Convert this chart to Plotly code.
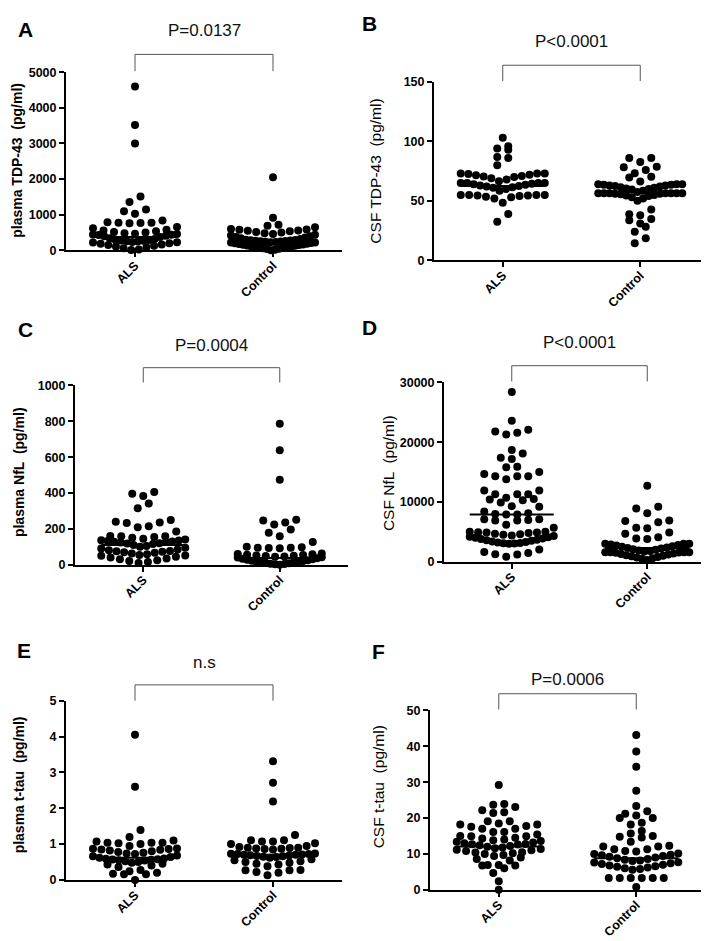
import numpy as np
import plotly.graph_objects as go

W, H = 709, 941
FONT = "Arial, 'Liberation Sans', sans-serif"

# ---------------- data ----------------
CATEGORIES = ["ALS", "Control"]

A_ALS = [4600, 3520, 3000, 1510, 1360, 1150, 1100, 1030, 840, 790, 780, 775, 770, 760, 660, 620,
         580, 560, 540, 520, 500, 480, 470, 460, 450, 440, 430, 410, 400, 380, 340, 320, 300, 290,
         280, 270, 260, 250, 240, 230, 220, 200, 190, 170, 150, 130, 110, 90, 60, 30, 10]
A_CTRL = [2050, 920, 720, 690, 650, 600, 590, 580, 560, 550, 540, 520, 500, 480, 460, 440, 420,
          400, 380, 360, 340, 320, 300, 290, 285, 280, 270, 265, 260, 250, 245, 240, 230, 225, 220,
          210, 200, 190, 180, 170, 160, 150, 140, 130, 120, 110, 100, 90, 80, 70, 60, 50, 40, 20, 5]
A_MED = [380, 240]
A_TICKS = [0, 1000, 2000, 3000, 4000, 5000]

B_ALS = [103, 96, 94, 93, 87, 86, 80, 73, 73, 73, 72.5, 72, 71.5, 71, 70.5, 70, 69, 68, 66.5,
         65, 65, 65, 65, 64.5, 64, 63.5, 63, 62.5, 62, 61.5, 61, 60, 58.5, 55, 55, 55, 55, 54.5,
         54.5, 54, 53.5, 53, 52, 48.5, 39, 32.5]
B_CTRL = [86, 86, 82.6, 78.8, 78.2, 76, 73.2, 70.2, 69.6, 66.3, 64, 64, 64, 63.5, 63.5, 63, 63,
          62.5, 62, 61.5, 61, 60.5, 60, 59.5, 58.5, 57.5, 56.5, 56.5, 56.5, 56.5, 56.5, 56.5, 56.5,
          56, 56, 55.5, 55, 54.5, 54, 53, 52, 50, 42.8, 38.7, 37.9, 34.8, 33.7, 30.9, 28.2, 24,
          18.5, 14.3]
B_MED = [62.5, 57.5]
B_TICKS = [0, 50, 100, 150]

C_ALS = [405, 396, 383, 342, 315, 250, 240, 236, 232, 214, 209, 185, 160, 158, 158, 155, 150,
         145, 140, 137, 135, 132, 130, 128, 126, 124, 120, 118, 115, 110, 105, 100, 95, 90, 85,
         80, 77, 75, 72, 70, 66, 62, 58, 54, 52, 50, 45, 40, 35, 30, 25, 20, 15, 10]
C_CTRL = [786, 639, 474, 251, 246, 236, 224, 196, 178, 158, 126, 100, 98, 95, 95, 93, 92, 62,
          60, 58, 56, 54, 52, 50, 48, 46, 44, 42, 40, 36, 33, 30, 28, 25, 22, 20, 18, 16, 14, 12,
          10, 8, 6, 4, 2, 0]
C_MED = [110, 38]
C_TICKS = [0, 200, 400, 600, 800, 1000]

D_ALS = [28400, 23600, 22100, 21800, 21600, 21300, 18700, 18100, 17400, 17200, 15900, 15800,
         15000, 14700, 14300, 14300, 14300, 13800, 11900, 11900, 11300, 11300, 11300, 10700,
         10500, 10400, 10300, 9900, 9300, 9200, 8400, 8100, 8000, 7900, 7900, 7100, 7100, 7000,
         6900, 6900, 6200, 5700, 5000, 5000, 4950, 4900, 4900, 4800, 4700, 4600, 4500, 4400,
         4300, 4200, 4100, 4000, 3900, 3800, 3700, 3600, 3500, 3400, 3300, 3200, 3150, 3100,
         3050, 3000, 2030, 1650, 1480, 1270, 1200, 820]
D_CTRL = [12700, 9200, 8900, 8100, 6900, 6800, 6600, 5700, 5600, 4900, 4700, 4100, 3900, 3800,
          3000, 3000, 3000, 2900, 2800, 2700, 2600, 2500, 2400, 2300, 2200, 2100, 2000, 1900,
          1800, 1700, 1600, 1600, 1600, 1600, 1550, 1500, 1400, 1300, 1200, 1100, 1000, 900,
          800, 700, 600, 500, 300]
D_MED = [7900, 2300]
D_TICKS = [0, 10000, 20000, 30000]

E_ALS = [4.05, 2.6, 1.39, 1.2, 1.1, 1.07, 1.04, 1.04, 1.04, 1.02, 1.0, 0.95, 0.88, 0.87, 0.86,
         0.85, 0.84, 0.82, 0.8, 0.78, 0.76, 0.74, 0.72, 0.68, 0.66, 0.64, 0.62, 0.6, 0.59, 0.58,
         0.57, 0.56, 0.55, 0.54, 0.52, 0.5, 0.48, 0.45, 0.43, 0.4, 0.36, 0.28, 0.24, 0.2, 0.17,
         0.16, 0.16, 0.0]
E_CTRL = [3.31, 2.71, 2.19, 1.25, 1.11, 1.11, 1.07, 1.07, 1.02, 1.0, 0.95, 0.92, 0.9, 0.9, 0.89,
          0.88, 0.87, 0.86, 0.85, 0.74, 0.73, 0.72, 0.72, 0.71, 0.7, 0.7, 0.69, 0.68, 0.67, 0.66,
          0.65, 0.64, 0.62, 0.58, 0.55, 0.52, 0.5, 0.48, 0.45, 0.43, 0.38, 0.28, 0.27, 0.27,
          0.22, 0.2, 0.13]
E_MED = [0.62, 0.70]
E_TICKS = [0, 1, 2, 3, 4, 5]

F_ALS = [29.2, 23.9, 23.7, 23.1, 22.2, 21.6, 21.4, 19.1, 19.1, 18.5, 18.2, 18.2, 17.8, 17.6,
         17.0, 17.0, 16.1, 16.1, 15.4, 15.0, 14.9, 14.9, 14.5, 14.3, 14.0, 13.8, 13.6, 13.4,
         13.2, 13.0, 12.8, 12.7, 12.6, 12.4, 12.2, 12.0, 11.8, 11.6, 11.4, 11.2, 11.0, 10.8,
         10.5, 10.4, 10.2, 10.0, 9.7, 9.4, 9.0, 8.6, 8.2, 6.9, 6.9, 6.8, 6.8, 6.0, 4.7, 2.4, 0.0]
F_CTRL = [43.2, 38.6, 34.3, 27.6, 23.4, 21.9, 21.2, 20.7, 20.0, 20.0, 18.7, 18.2, 16.4, 15.7,
          15.0, 14.8, 14.6, 13.4, 12.3, 12.1, 12.1, 11.3, 11.3, 10.8, 10.7, 10.1, 10.0, 9.8,
          9.6, 9.4, 9.2, 9.0, 8.8, 8.6, 8.4, 8.2, 8.0, 7.7, 7.6, 7.4, 7.2, 7.0, 6.8, 6.6, 6.4,
          6.2, 6.0, 5.8, 5.6, 3.3, 3.3, 3.3, 3.3, 3.3, 3.3, 0.8]
F_MED = [12.1, 8.8]
F_TICKS = [0, 10, 20, 30, 40, 50]

P_TEXTS = ["P=0.0137", "P<0.0001", "P=0.0004", "P<0.0001", "n.s", "P=0.0006"]
Y_TITLES = ["plasma TDP-43  (pg/ml)", "CSF TDP-43  (pg/ml)", "plasma NfL  (pg/ml)",
            "CSF NfL  (pg/ml)", "plasma t-tau  (pg/ml)", "CSF t-tau  (pg/ml)"]
LETTERS = ["A", "B", "C", "D", "E", "F"]

PANELS = [
    (A_ALS, A_CTRL, A_MED, A_TICKS),
    (B_ALS, B_CTRL, B_MED, B_TICKS),
    (C_ALS, C_CTRL, C_MED, C_TICKS),
    (D_ALS, D_CTRL, D_MED, D_TICKS),
    (E_ALS, E_CTRL, E_MED, E_TICKS),
    (F_ALS, F_CTRL, F_MED, F_TICKS),
]

# ---------------- layout / style (pixel geometry) ----------------
STYLE = [
    dict(box=(58, 334, 58, 239), br=(40, 57), py=16, letter=(17, 15), yt=(9, 148), bold=True),
    dict(box=(426, 701, 68, 249), br=(51, 67), py=27, letter=(361, 9), yt=(368, 159), bold=False),
    dict(box=(67, 340, 376, 558), br=(358, 373), py=335, letter=(17, 319), yt=(11, 464), bold=True),
    dict(box=(436, 707, 373, 555), br=(356, 372), py=332, letter=(361, 317), yt=(380, 465), bold=False),
    dict(box=(58, 334, 696, 878), br=(680, 696), py=657, letter=(16, 645), yt=(11, 782), bold=True),
    dict(box=(422, 697, 706, 888), br=(689, 705), py=675, letter=(370, 646), yt=(370, 784), bold=False),
]

MARKER_D = 8
ROW_PX = 8.0
STEP_PX = 11.0
HALF_PX = 42.0


def swarm(values, center, px_per_y, px_per_x):
    """Prism-like scatter layout: points grouped in rows, spread horizontally."""
    v = np.sort(np.asarray(values, dtype=float))
    rows, cur, start = [], [v[0]], v[0]
    for val in v[1:]:
        if (val - start) * px_per_y <= ROW_PX:
            cur.append(val)
        else:
            rows.append(cur)
            cur, start = [val], val
    rows.append(cur)
    xs, ys = [], []
    for r in rows:
        n = len(r)
        step = STEP_PX if n == 1 else min(STEP_PX, 2 * HALF_PX / (n - 1))
        slots = (np.arange(n) - (n - 1) / 2.0) * step
        order = np.argsort(np.abs(slots), kind="stable")
        for val, idx in zip(sorted(r), order):
            xs.append(center + slots[idx] / px_per_x)
            ys.append(val)
    return xs, ys


fig = go.Figure()
annotations, shapes = [], []

for i, ((als, ctl, med, ticks), st) in enumerate(zip(PANELS, STYLE), start=1):
    sfx = "" if i == 1 else str(i)
    xa, ya = "x" + sfx, "y" + sfx
    l, r, t, b = st["box"]
    ymax = ticks[-1]
    px_per_x = (r - l) / 2.0
    px_per_y = (b - t) / ymax

    for ci, vals in enumerate([als, ctl]):
        xs, ys = swarm(vals, ci, px_per_y, px_per_x)
        fig.add_trace(go.Scatter(
            x=xs, y=ys, mode="markers", xaxis=xa, yaxis=ya, cliponaxis=False,
            marker=dict(size=MARKER_D, color="black", line=dict(width=0)),
            showlegend=False, hoverinfo="y"))
        half = HALF_PX / px_per_x
        fig.add_trace(go.Scatter(
            x=[ci - half, ci + half], y=[med[ci], med[ci]], mode="lines",
            xaxis=xa, yaxis=ya, cliponaxis=False,
            line=dict(color="black", width=2), showlegend=False, hoverinfo="skip"))

    fig.layout["xaxis" + sfx] = dict(
        domain=[l / W, r / W], anchor=ya, range=[-0.5, 1.5],
        tickmode="array", tickvals=[0, 1], ticktext=CATEGORIES, tickangle=-45,
        ticks="outside", ticklen=5, tickwidth=2, tickcolor="black",
        ticklabelstandoff=-4,
        showline=True, linewidth=2, linecolor="black", showgrid=False, zeroline=False,
        tickfont=dict(family=FONT, size=12.5, color="black", weight="bold"), fixedrange=True)
    fig.layout["yaxis" + sfx] = dict(
        domain=[1 - b / H, 1 - t / H], anchor=xa, range=[0, ymax],
        tickmode="array", tickvals=ticks, ticktext=[str(v) for v in ticks],
        ticks="outside", ticklen=5, tickwidth=2, tickcolor="black",
        showline=True, linewidth=2, linecolor="black", showgrid=False, zeroline=False,
        tickfont=dict(family=FONT, size=12.5, color="black", weight="bold"), fixedrange=True)

    # significance bracket
    ybar, yleg = st["br"]
    for (x0, y0, x1, y1) in [(0, ybar, 1, ybar), (0, ybar, 0, yleg), (1, ybar, 1, yleg)]:
        shapes.append(dict(type="line", xref=xa, yref="paper", x0=x0, x1=x1,
                           y0=1 - y0 / H, y1=1 - y1 / H,
                           line=dict(color="#555555", width=1)))
    annotations.append(dict(text=P_TEXTS[i - 1], xref=xa, yref="paper", x=0.5,
                            y=1 - st["py"] / H, showarrow=False, xanchor="center",
                            yanchor="middle", font=dict(family=FONT, size=17, color="#111111")))
    # panel letter
    lx, ly = st["letter"]
    annotations.append(dict(text=LETTERS[i - 1], xref="paper", yref="paper", x=lx / W,
                            y=1 - ly / H, showarrow=False, xanchor="center", yanchor="middle",
                            font=dict(family=FONT, size=21, color="black", weight="bold")))
    # y-axis title
    tx, ty = st["yt"]
    annotations.append(dict(text=Y_TITLES[i - 1], xref="paper", yref="paper", x=tx / W,
                            y=1 - ty / H, showarrow=False, textangle=-90, xanchor="center",
                            yanchor="middle",
                            font=dict(family=FONT, size=14 if st["bold"] else 15.5,
                                      color="black",
                                      weight="bold" if st["bold"] else "normal")))

fig.update_layout(
    width=W, height=H, margin=dict(l=0, r=0, t=0, b=0),
    paper_bgcolor="white", plot_bgcolor="white",
    font=dict(family=FONT, color="black"),
    annotations=annotations, shapes=shapes, showlegend=False)

fig.write_html("out.html", config={"displayModeBar": False})
